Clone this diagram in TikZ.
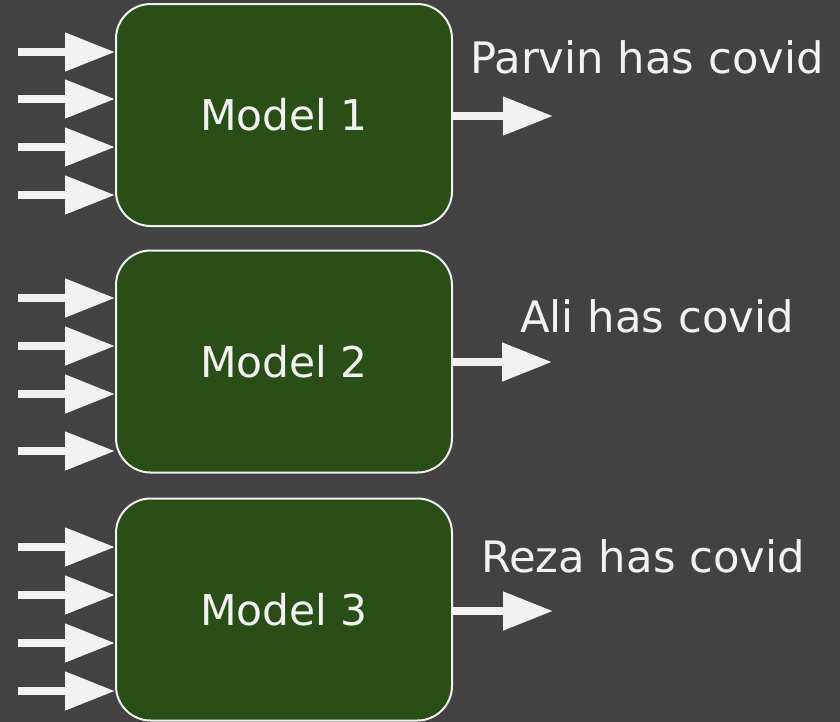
\documentclass[tikz,border=0pt]{standalone}
\usepackage{fontspec}
\setmainfont{DejaVu Sans}
\usetikzlibrary{arrows.meta}
\definecolor{bg}{RGB}{66,66,66}
\definecolor{boxgreen}{RGB}{41,79,23}
\definecolor{fg}{RGB}{242,242,242}
\begin{document}
\begin{tikzpicture}[x=0.75pt,y=-0.75pt,
  model/.style={draw=fg, line width=1.5pt, fill=boxgreen, rounded corners=26pt,
    minimum width=252pt, minimum height=166.5pt, text=fg,
    font=\fontsize{31.8}{36}\selectfont, inner sep=0pt},
  flow/.style={draw=fg, line width=6pt,
    -{Triangle[length=37.5pt 0 0, width=27.75pt 0 0]}},
  lbl/.style={text=fg, font=\fontsize{32.5}{36}\selectfont, anchor=base, inner sep=0pt}]
\fill[bg] (0,0) rectangle (840,722);
\useasboundingbox (0,0) rectangle (840,722);
\node[model] (m1) at (284,115) {Model 1};
\node[model] (m2) at (284,361.5) {Model 2};
\node[model] (m3) at (284,609.5) {Model 3};
\foreach \y [count=\i] in {52,99,147,195} {
  \coordinate (a1\i) at (18,\y);
  \draw[flow] (a1\i) -- (a1\i -| m1.west);
}
\foreach \y [count=\i] in {298,346,394,451} {
  \coordinate (a2\i) at (18,\y);
  \draw[flow] (a2\i) -- (a2\i -| m2.west);
}
\foreach \y [count=\i] in {547,595,643,691} {
  \coordinate (a3\i) at (18,\y);
  \draw[flow] (a3\i) -- (a3\i -| m3.west);
}
\coordinate (o1) at (553,116);
\coordinate (o2) at (552,362);
\coordinate (o3) at (553,611);
\draw[flow] (m1.east |- o1) -- (o1);
\draw[flow] (m2.east |- o2) -- (o2);
\draw[flow] (m3.east |- o3) -- (o3);
\node[lbl] (t1) at (647,73) {Parvin has covid};
\node[lbl] (t2) at (657,332) {Ali has covid};
\node[lbl] (t3) at (643,572) {Reza has covid};
\end{tikzpicture}
\end{document}
